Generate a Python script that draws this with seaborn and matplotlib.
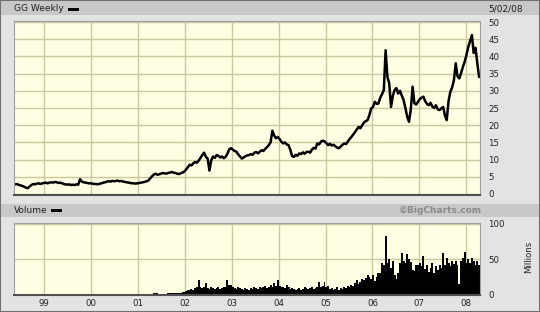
import numpy as np
import pandas as pd
import matplotlib
matplotlib.use("Agg")
import matplotlib.pyplot as plt
from matplotlib.patches import Rectangle
import seaborn as sns

# ---------------- data (bi-weekly samples) ----------------
price_1998 = [3.0, 2.8, 2.9, 2.6, 2.5, 2.3, 2.1, 1.8, 1.7, 2.2, 2.6, 2.9, 2.8, 3.0, 3.1, 2.9, 3.1]
price_1999 = [3.2, 3.3, 3.1, 3.3, 3.4, 3.3, 3.5, 3.4, 3.2, 3.3, 3.1, 2.9, 2.8, 2.7, 2.8, 2.6,
              2.7, 2.6, 2.8, 2.7, 4.3, 3.6, 3.4, 3.3, 3.2, 3.1]
price_2000 = [3.1, 3.0, 2.9, 2.9, 2.8, 3.0, 3.1, 3.3, 3.4, 3.6, 3.7, 3.6, 3.8, 3.7, 3.8, 3.9,
              3.7, 3.8, 3.6, 3.5, 3.4, 3.3, 3.2, 3.1, 3.1, 3.0]
price_2001 = [3.1, 3.2, 3.3, 3.4, 3.5, 3.7, 3.9, 4.5, 5.1, 5.6, 5.9, 5.6, 5.7, 5.9, 6.1, 6.0,
              5.9, 6.1, 6.2, 6.4, 6.2, 6.1, 5.9, 5.8, 6.0, 6.2]
price_2002 = [6.5, 7.1, 7.8, 8.5, 8.3, 8.9, 9.3, 9.1, 9.7, 10.5, 11.3, 12.0, 10.8, 10.3, 6.8, 9.8,
              10.9, 10.5, 11.3, 11.1, 10.6, 10.9, 10.4, 10.8, 11.7, 13.0]
price_2003 = [13.3, 12.9, 12.5, 12.3, 11.5, 10.9, 10.3, 10.6, 11.0, 11.2, 11.3, 11.6, 11.4, 12.0,
              12.2, 11.8, 12.3, 12.7, 12.5, 13.1, 13.6, 14.2, 15.0, 18.4, 17.0, 16.2]
price_2004 = [16.6, 16.0, 15.2, 14.7, 15.0, 14.4, 14.2, 12.8, 11.0, 10.8, 11.4, 11.1, 11.8, 11.6,
              12.1, 11.7, 12.2, 12.3, 12.0, 12.9, 13.4, 13.2, 14.7, 14.4, 15.2, 15.5]
price_2005 = [15.3, 14.8, 14.2, 14.6, 14.1, 14.3, 13.9, 13.5, 13.3, 13.8, 14.3, 14.7, 14.5, 15.3,
              16.0, 16.6, 17.3, 18.0, 18.8, 19.5, 19.1, 20.0, 20.8, 21.2, 21.5, 23.0]
price_2006 = [24.9, 25.3, 26.8, 26.2, 26.3, 28.0, 29.0, 30.2, 41.8, 34.0, 32.2, 25.3, 28.5, 30.2,
              30.8, 29.2, 30.0, 28.6, 27.3, 25.0, 22.5, 21.0, 24.5, 31.2, 26.4, 26.0]
price_2007 = [26.8, 27.6, 28.0, 28.3, 27.0, 26.2, 25.8, 26.5, 25.4, 25.0, 25.8, 24.6, 24.4, 24.9,
              25.3, 22.8, 21.5, 27.0, 29.7, 31.0, 33.1, 38.0, 34.2, 33.6, 35.2, 37.0]
price_2008 = [38.5, 40.5, 42.8, 44.5, 46.2, 41.0, 42.5, 38.0, 34.0]

vol_1998 = [0.8, 0.9, 0.8, 0.9, 1.0, 0.8, 0.9, 1.0, 0.9, 0.8, 0.9, 0.8, 1.0, 0.9, 0.8, 0.9, 0.9]
vol_1999 = [0.9, 0.8, 0.9, 1.0, 0.9, 0.8, 0.9, 0.9, 1.0, 0.8, 0.9, 0.9, 0.8, 0.9, 1.0, 0.9,
            0.8, 0.9, 0.9, 1.0, 1.2, 1.0, 0.9, 0.8, 0.9, 0.9]
vol_2000 = [0.9, 0.8, 0.9, 0.9, 1.0, 0.9, 0.8, 0.9, 1.0, 0.9, 0.9, 0.8, 0.9, 1.0, 0.9, 0.9,
            0.8, 0.9, 0.9, 1.0, 0.9, 0.8, 0.9, 0.9, 1.0, 0.9]
vol_2001 = [0.9, 0.9, 1.0, 0.9, 1.0, 1.0, 1.1, 1.0, 1.2, 2.5, 2.8, 1.5, 1.2, 1.1, 1.0, 1.2,
            1.3, 1.5, 2.0, 2.6, 1.8, 2.2, 2.8, 2.4, 2.6, 3.0]
vol_2002 = [4, 5, 6, 7, 8, 7, 9, 10, 20, 11, 9, 10, 16, 9, 8, 10, 9, 8, 9, 10, 8, 9, 11, 10, 20, 14]
vol_2003 = [13, 10, 9, 8, 11, 9, 8, 7, 9, 8, 7, 9, 8, 10, 9, 8, 11, 9, 10, 12, 9, 10, 13, 11, 16, 12]
vol_2004 = [20, 12, 10, 11, 9, 13, 10, 8, 9, 8, 7, 8, 9, 7, 8, 10, 9, 8, 9, 10, 8, 9, 11, 17, 10, 12]
vol_2005 = [17, 10, 12, 8, 9, 7, 8, 10, 7, 9, 8, 11, 9, 12, 10, 14, 12, 16, 20, 15, 18, 22, 20, 24, 27, 25]
vol_2006 = [22, 28, 19, 25, 30, 31, 44, 42, 83, 45, 50, 38, 47, 28, 22, 30, 45, 59, 48, 44, 57, 50,
            46, 35, 33, 42]
vol_2007 = [42, 44, 40, 55, 36, 42, 32, 38, 44, 30, 40, 35, 42, 38, 58, 42, 52, 45, 40, 48, 43, 47,
            41, 15, 48, 52]
vol_2008 = [60, 45, 50, 44, 52, 47, 42, 48, 41]

prices = (price_1998 + price_1999 + price_2000 + price_2001 + price_2002 + price_2003
          + price_2004 + price_2005 + price_2006 + price_2007 + price_2008)
volumes = (vol_1998 + vol_1999 + vol_2000 + vol_2001 + vol_2002 + vol_2003
           + vol_2004 + vol_2005 + vol_2006 + vol_2007 + vol_2008)

start_date = "1998-05-08"
dates = pd.date_range(start_date, periods=len(prices), freq="14D")

year_labels = ["99", "00", "01", "02", "03", "04", "05", "06", "07", "08"]
year_starts = pd.to_datetime(["1999-01-01", "2000-01-01", "2001-01-01", "2002-01-01",
                              "2003-01-01", "2004-01-01", "2005-01-01", "2006-01-01",
                              "2007-01-01", "2008-01-01"])
price_ticks = [0, 5, 10, 15, 20, 25, 30, 35, 40, 45, 50]
volume_ticks = [0, 50, 100]

df = pd.DataFrame({"date": dates, "price": prices, "volume": volumes})

# ---------------- styling ----------------
sns.set_theme(style="white")
plt.rcParams["font.family"] = ["DejaVu Sans"]

W, H = 540, 312
fig = plt.figure(figsize=(W / 100, H / 100), dpi=100, facecolor="#e3e3e3")


def rect(x0, y0, x1, y1):
    return [x0 / W, 1 - y1 / H, (x1 - x0) / W, (y1 - y0) / H]


def band(y0, y1, color):
    fig.patches.append(Rectangle((0, 1 - y1 / H), 1, (y1 - y0) / H, transform=fig.transFigure,
                                 facecolor=color, edgecolor="none", zorder=0))


band(0, 15, "#c8c8c8")
band(204, 217, "#c8c8c8")
fig.patches.append(Rectangle((0, 0), 1, 1, transform=fig.transFigure, facecolor="none",
                             edgecolor="#707070", lw=1.5, zorder=5))

bg = "#ffffe3"
grid_c = "#cbc7a0"
xmin = pd.Timestamp("1998-05-12")
xmax = pd.Timestamp("2008-04-18")

# price panel
ax1 = fig.add_axes(rect(14, 21, 480, 195))
ax1.set_facecolor(bg)
sns.lineplot(data=df, x="date", y="price", ax=ax1, color="black", lw=1.8)
ax1.set_xlim(xmin, xmax)
ax1.set_ylim(-0.3, 50.3)
ax1.set_yticks(price_ticks)
ax1.yaxis.tick_right()
ax1.set_xticks(year_starts)
ax1.tick_params(axis="x", length=0, labelbottom=False)
ax1.tick_params(axis="y", length=0, pad=6, labelsize=6.2, labelcolor="#222222")
ax1.set_xlabel("")
ax1.set_ylabel("")
ax1.grid(True, color=grid_c, lw=1)
ax1.set_axisbelow(True)

# volume panel
ax2 = fig.add_axes(rect(14, 223, 480, 295))
ax2.set_facecolor(bg)
ax2.bar(df["date"], df["volume"], width=15, color="black", lw=0)
ax2.set_xlim(xmin, xmax)
ax2.set_ylim(-0.7, 101)
ax2.set_yticks(volume_ticks)
ax2.yaxis.tick_right()
ax2.set_xticks(year_starts)
ax2.set_xticklabels(year_labels)
ax2.tick_params(axis="x", length=0, pad=3, labelsize=6.2, labelcolor="#222222")
ax2.tick_params(axis="y", length=0, pad=6, labelsize=6.2, labelcolor="#222222")
ax2.grid(True, color=grid_c, lw=1)
ax2.set_axisbelow(True)

for ax in (ax1, ax2):
    for side in ("top", "left", "right"):
        ax.spines[side].set_color("#a0a0a0")
        ax.spines[side].set_linewidth(0.8)
        ax.spines[side].set_visible(True)
    ax.spines["bottom"].set_color("#505050")
    ax.spines["bottom"].set_linewidth(1.5)
    ax.spines["bottom"].set_visible(True)

# header texts
fs = 6.5
fig.text(14 / W, 1 - 8.5 / H, "GG Weekly", fontsize=fs, va="center", ha="left", color="#222222")
fig.patches.append(Rectangle((68 / W, 1 - 10.5 / H), 11 / W, 3 / H, transform=fig.transFigure,
                             facecolor="black", edgecolor="none", zorder=3))
fig.text(488 / W, 1 - 8.5 / H, "5/02/08", fontsize=fs, va="center", ha="left", color="#222222")
fig.text(14 / W, 1 - 210.5 / H, "Volume", fontsize=fs, va="center", ha="left", color="#222222")
fig.patches.append(Rectangle((51 / W, 1 - 212 / H), 11 / W, 3 / H, transform=fig.transFigure,
                             facecolor="black", edgecolor="none", zorder=3))
fig.text(482 / W, 1 - 210.5 / H, "\u00a9BigCharts.com", fontsize=fs, va="center", ha="right",
         color="#8a8a8a", fontweight="bold")
fig.text(529 / W, 1 - 257 / H, "Millions", fontsize=6.2, va="center", ha="center",
         rotation=90, color="#222222")

fig.savefig("out.png", dpi=100, facecolor=fig.get_facecolor())
